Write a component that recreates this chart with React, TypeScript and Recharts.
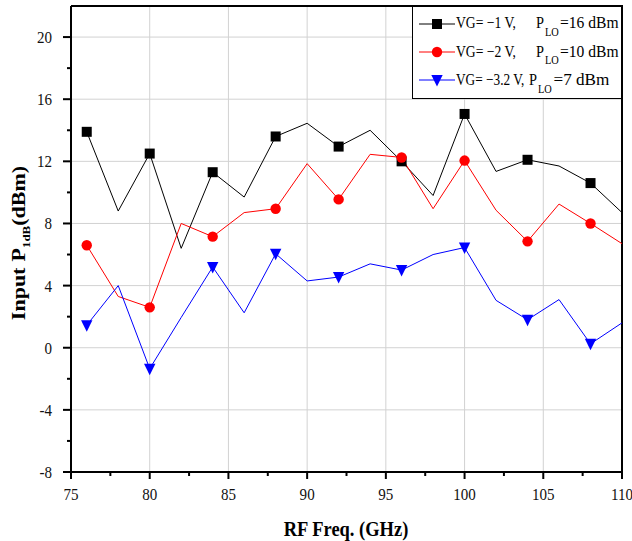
import React from 'react';
import { LineChart, Line, XAxis, YAxis, CartesianGrid, ReferenceLine, Legend } from 'recharts';

const freqs = [76, 78, 80, 82, 84, 86, 88, 90, 92, 94, 96, 98, 100, 102, 104, 106, 108, 110];
const vgMinus1 = [13.9, 8.8, 12.5, 6.4, 11.3, 9.7, 13.6, 14.45, 12.95, 14.0, 12.0, 9.8, 15.05, 11.35, 12.1, 11.7, 10.6, 8.7];
const vgMinus2 = [6.6, 3.3, 2.6, 8.0, 7.15, 8.7, 8.95, 11.85, 9.55, 12.45, 12.25, 8.95, 12.05, 8.85, 6.85, 9.25, 8.0, 6.7];
const vgMinus32 = [1.45, 4.0, -1.35, 1.95, 5.2, 2.25, 6.05, 4.3, 4.55, 5.4, 5.0, 6.0, 6.45, 3.05, 1.8, 3.1, 0.25, 1.6];

const xTicks = [75, 77.5, 80, 82.5, 85, 87.5, 90, 92.5, 95, 97.5, 100, 102.5, 105, 107.5, 110];
const xMajor = [75, 80, 85, 90, 95, 100, 105, 110];
const yTicks = [-8, -6, -4, -2, 0, 2, 4, 6, 8, 10, 12, 14, 16, 18, 20];
const yMajor = [-8, -4, 0, 4, 8, 12, 16, 20];
const gridX = [80, 85, 90, 95, 100, 105];
const gridY = [-4, 0, 4, 8, 12, 16, 20];

const legendMain = ['VG= \u22121 V,', 'VG= \u22122 V,', 'VG= \u22123.2 V,'];
const legendRest = ['=16 dBm', '=10 dBm', '=7 dBm'];

const data = freqs.map((f, i) => ({ f, a: vgMinus1[i], b: vgMinus2[i], c: vgMinus32[i] }));

const FONT = '"Liberation Serif", "Times New Roman", serif';

const XTick = (props: any) => {
  const { x, y, payload } = props;
  const v = payload.value;
  const major = xMajor.includes(v);
  return (
    <g>
      <line x1={x} x2={x} y1={y} y2={y + (major ? 7 : 4)} stroke="#000" strokeWidth={2} />
      {major && (
        <text transform={`translate(${x},${y + 28}) scale(0.86,1)`} textAnchor="middle" fontFamily={FONT} fontSize={17.5} fill="#111">
          {v}
        </text>
      )}
    </g>
  );
};

const YTick = (props: any) => {
  const { x, y, payload } = props;
  const v = payload.value;
  const major = yMajor.includes(v);
  return (
    <g>
      <line x1={x} x2={x - (major ? 8 : 4)} y1={y} y2={y} stroke="#000" strokeWidth={2} />
      {major && (
        <text transform={`translate(${x - 19},${y + 6}) scale(0.86,1)`} textAnchor="end" fontFamily={FONT} fontSize={17.5} fill="#111">
          {v}
        </text>
      )}
    </g>
  );
};

const squareDot = (props: any) => {
  const { cx, cy, index } = props;
  if (index % 2 !== 0) return <g key={`s${index}`} />;
  return <rect key={`s${index}`} x={cx - 5} y={cy - 5} width={10} height={10} fill="#000" />;
};
const circleDot = (props: any) => {
  const { cx, cy, index } = props;
  if (index % 2 !== 0) return <g key={`c${index}`} />;
  return <circle key={`c${index}`} cx={cx} cy={cy} r={5.2} fill="#ff0000" />;
};
const triDot = (props: any) => {
  const { cx, cy, index } = props;
  if (index % 2 !== 0) return <g key={`t${index}`} />;
  return <path key={`t${index}`} d={`M${cx - 5.7},${cy - 5} L${cx + 5.7},${cy - 5} L${cx},${cy + 6.5} Z`} fill="#0000ff" />;
};

const legendLayout = [
  { color: '#000', marker: 'square', mainS: 0.78, pX: 124, loX: 133, restX: 148, restS: 0.89, cy: 19, base: 23.3 },
  { color: '#ff0000', marker: 'circle', mainS: 0.78, pX: 124, loX: 133, restX: 148, restS: 0.89, cy: 47, base: 51.7 },
  { color: '#0000ff', marker: 'tri', mainS: 0.76, pX: 117, loX: 126, restX: 141.5, restS: 0.98, cy: 75, base: 80 },
];

const LegendBox = () => (
  <svg width={211} height={95} style={{ display: 'block' }}>
    <rect x={0.5} y={0.5} width={209} height={93} fill="#fff" stroke="#000" strokeWidth={1} />
    <line x1={0} x2={211} y1={1} y2={1} stroke="#000" strokeWidth={2} />
    <line x1={210} x2={210} y1={0} y2={95} stroke="#000" strokeWidth={2} />
    {legendLayout.map((r, i) => (
      <g key={i} fontFamily={FONT} fill="#000">
        <line x1={7} x2={43} y1={r.cy} y2={r.cy} stroke={r.color} strokeWidth={1} />
        {r.marker === 'square' && <rect x={20} y={r.cy - 5} width={10} height={10} fill={r.color} />}
        {r.marker === 'circle' && <circle cx={25} cy={r.cy} r={5.2} fill={r.color} />}
        {r.marker === 'tri' && <path d={`M${25 - 5.7},${r.cy - 5} L${25 + 5.7},${r.cy - 5} L25,${r.cy + 6.5} Z`} fill={r.color} />}
        <text transform={`translate(44,${r.base}) scale(${r.mainS},1)`} fontSize={17.5}>{legendMain[i]}</text>
        <text transform={`translate(${r.pX},${r.base}) scale(0.82,1)`} fontSize={17.5}>P</text>
        <text transform={`translate(${r.loX},${r.base + 7.5}) scale(0.9,1)`} fontSize={11.5}>LO</text>
        <text transform={`translate(${r.restX},${r.base}) scale(${r.restS},1)`} fontSize={17.5}>{legendRest[i]}</text>
      </g>
    ))}
  </svg>
);

export default function App() {
  return (
    <div style={{ position: 'absolute', left: 0, top: 0, width: 632, height: 541, background: '#fff' }}>
      <LineChart width={632} height={541} data={data} margin={{ top: 6, right: 10, left: 0, bottom: 0 }}>
        <CartesianGrid horizontalValues={gridY} verticalValues={gridX} stroke="#d2d2d2" strokeWidth={1} />
        <XAxis
          dataKey="f"
          type="number"
          domain={[75, 110]}
          ticks={xTicks}
          interval={0}
          height={69}
          tickSize={0}
          tickMargin={0}
          tickLine={false}
          tick={<XTick />}
          axisLine={{ stroke: '#000', strokeWidth: 2 }}
          allowDataOverflow
        />
        <YAxis
          type="number"
          domain={[-8, 22]}
          ticks={yTicks}
          interval={0}
          width={71}
          tickSize={0}
          tickMargin={0}
          tickLine={false}
          tick={<YTick />}
          axisLine={{ stroke: '#000', strokeWidth: 2 }}
          allowDataOverflow
        />
        <ReferenceLine y={22} stroke="#000" strokeWidth={2} />
        <ReferenceLine x={110} stroke="#000" strokeWidth={2} />
        <Line type="linear" dataKey="a" stroke="#000" strokeWidth={1} dot={squareDot} isAnimationActive={false} />
        <Line type="linear" dataKey="b" stroke="#ff0000" strokeWidth={1} dot={circleDot} isAnimationActive={false} />
        <Line type="linear" dataKey="c" stroke="#0000ff" strokeWidth={1} dot={triDot} isAnimationActive={false} />
        <Legend
          layout="vertical"
          align="center"
          verticalAlign="middle"
          wrapperStyle={{ left: 412, top: 5, width: 211, height: 95 }}
          content={() => <LegendBox />}
        />
        <text transform="translate(346,536) scale(0.88,1)" textAnchor="middle" fontFamily={FONT} fontSize={21} fontWeight="bold" fill="#000">
          RF Freq. (GHz)
        </text>
        <text transform="translate(25,243) rotate(-90) scale(1,0.85)" textAnchor="middle" fontFamily={FONT} fontSize={22} fontWeight="bold" fill="#000">
          <tspan>Input</tspan>
          <tspan dx={6}>P</tspan>
          <tspan fontSize={13} dy={6}>1dB</tspan>
          <tspan dy={-6}>(dBm)</tspan>
        </text>
      </LineChart>
    </div>
  );
}
